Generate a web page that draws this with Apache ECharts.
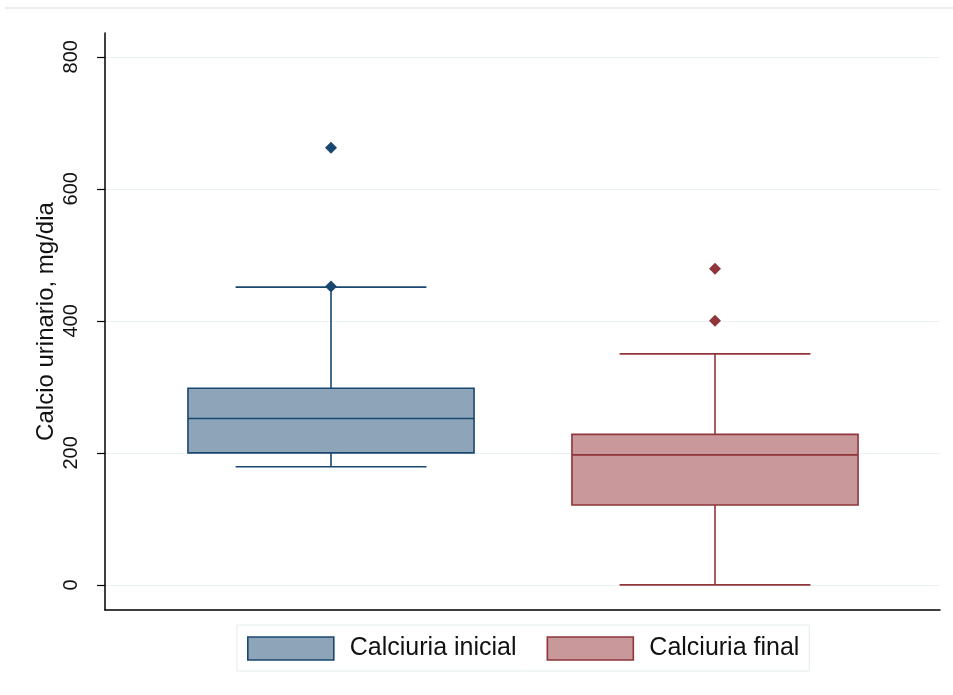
<!DOCTYPE html>
<html>
<head>
<meta charset="utf-8">
<script src="https://cdn.jsdelivr.net/npm/echarts@6/dist/echarts.min.js"></script>
<style>
  html, body { margin: 0; padding: 0; background: #fff; }
  #container { width: 953px; height: 695px; }
</style>
</head>
<body>
<div id="container"></div>
<script>
// groups and their box statistics: [low whisker, Q1, median, Q3, high whisker]
const groups = ['Calciuria inicial', 'Calciuria final'];
const statsInicial = [179, 200, 252, 298, 451];
const statsFinal = [0, 121, 197, 228, 350];
const outliersInicial = [452, 662];
const outliersFinal = [400, 479];
const yTicks = [0, 200, 400, 600, 800];

const colors = [
    { line: '#1a476f', fill: '#8ea4b8' },
    { line: '#90353b', fill: '#c8989a' }
];
const fontFamily = '"Liberation Sans", Arial, sans-serif';

function renderBox(params, api) {
    let x = api.value(0);
    let band = api.size([1, 0])[0];
    let boxW = band * 0.745;
    let capW = band * 0.497;
    let low = api.coord([x, api.value(1)]);
    let q1 = api.coord([x, api.value(2)]);
    let med = api.coord([x, api.value(3)]);
    let q3 = api.coord([x, api.value(4)]);
    let high = api.coord([x, api.value(5)]);
    let c = colors[x];
    let cx = low[0];
    let lineStyle = { stroke: c.line, lineWidth: 1.6 };
    return {
        type: 'group',
        children: [
            { type: 'line', shape: { x1: cx, y1: low[1], x2: cx, y2: q1[1] }, style: lineStyle },
            { type: 'line', shape: { x1: cx, y1: q3[1], x2: cx, y2: high[1] }, style: lineStyle },
            { type: 'line', shape: { x1: cx - capW / 2, y1: low[1], x2: cx + capW / 2, y2: low[1] }, style: lineStyle },
            { type: 'line', shape: { x1: cx - capW / 2, y1: high[1], x2: cx + capW / 2, y2: high[1] }, style: lineStyle },
            {
                type: 'rect',
                shape: { x: cx - boxW / 2, y: q3[1], width: boxW, height: q1[1] - q3[1] },
                style: { fill: c.fill, stroke: c.line, lineWidth: 1.6 }
            },
            { type: 'line', shape: { x1: cx - boxW / 2, y1: med[1], x2: cx + boxW / 2, y2: med[1] }, style: lineStyle }
        ]
    };
}

let yMin = -38, yMax = 836;

let dom = document.getElementById('container');
let myChart = echarts.init(dom);

let option = {
    animation: false,
    backgroundColor: '#fff',
    graphic: [
        {
            type: 'line',
            shape: { x1: 5, y1: 8, x2: 953, y2: 8 },
            style: { stroke: '#e8eef1', lineWidth: 2 }
        }
    ],
    legend: {
        data: [
            { name: groups[0], icon: 'rect', itemStyle: { color: colors[0].fill, borderColor: colors[0].line, borderWidth: 1.6 } },
            { name: groups[1], icon: 'rect', itemStyle: { color: colors[1].fill, borderColor: colors[1].line, borderWidth: 1.6 } }
        ],
        left: 237,
        top: 625,
        itemWidth: 86,
        itemHeight: 23,
        itemGap: 30,
        padding: [11, 10, 10, 10],
        borderColor: '#e4ecef',
        borderWidth: 1,
        textStyle: {
            fontFamily: fontFamily,
            fontSize: 25,
            lineHeight: 24,
            color: '#111',
            padding: [0, 0, 0, 11]
        }
    },
    grid: [
        { left: 105, right: 13, top: 33, bottom: 85 },
        { left: 139, width: 768, top: 33, bottom: 85 }
    ],
    xAxis: [
        {
            type: 'category',
            gridIndex: 0,
            data: [''],
            axisLine: { onZero: false, lineStyle: { color: '#000', width: 1.5 } },
            axisTick: { show: false },
            axisLabel: { show: false }
        },
        {
            type: 'category',
            gridIndex: 1,
            data: groups,
            show: false
        }
    ],
    yAxis: [
        {
            type: 'value',
            gridIndex: 0,
            min: yMin,
            max: yMax,
            name: 'Calcio urinario, mg/dia',
            nameLocation: 'middle',
            nameGap: 47,
            nameMoveOverlap: false,
            nameTextStyle: { fontFamily: fontFamily, fontSize: 24, color: '#111' },
            axisLine: { show: true, lineStyle: { color: '#000', width: 1.5 } },
            axisTick: { show: true, length: 8, customValues: yTicks, lineStyle: { color: '#000', width: 1.2 } },
            axisLabel: {
                customValues: yTicks,
                rotate: 90,
                margin: 24,
                fontFamily: fontFamily,
                fontSize: 20,
                color: '#111'
            },
            splitLine: { show: true, lineStyle: { color: '#eaf2f4', width: 1.2 } }
        },
        {
            type: 'value',
            gridIndex: 1,
            min: yMin,
            max: yMax,
            show: false,
            splitLine: { show: false }
        }
    ],
    series: [
        {
            name: groups[0],
            type: 'custom',
            xAxisIndex: 1,
            yAxisIndex: 1,
            renderItem: renderBox,
            encode: { x: 0, y: [1, 2, 3, 4, 5] },
            data: [[0].concat(statsInicial)]
        },
        {
            name: groups[1],
            type: 'custom',
            xAxisIndex: 1,
            yAxisIndex: 1,
            renderItem: renderBox,
            encode: { x: 0, y: [1, 2, 3, 4, 5] },
            data: [[1].concat(statsFinal)]
        },
        {
            name: 'outliers-inicial',
            type: 'scatter',
            xAxisIndex: 1,
            yAxisIndex: 1,
            symbol: 'diamond',
            symbolSize: 12,
            itemStyle: { color: colors[0].line, opacity: 1 },
            data: outliersInicial.map(v => [0, v])
        },
        {
            name: 'outliers-final',
            type: 'scatter',
            xAxisIndex: 1,
            yAxisIndex: 1,
            symbol: 'diamond',
            symbolSize: 12,
            itemStyle: { color: colors[1].line, opacity: 1 },
            data: outliersFinal.map(v => [1, v])
        }
    ]
};
myChart.setOption(option);
</script>
</body>
</html>
